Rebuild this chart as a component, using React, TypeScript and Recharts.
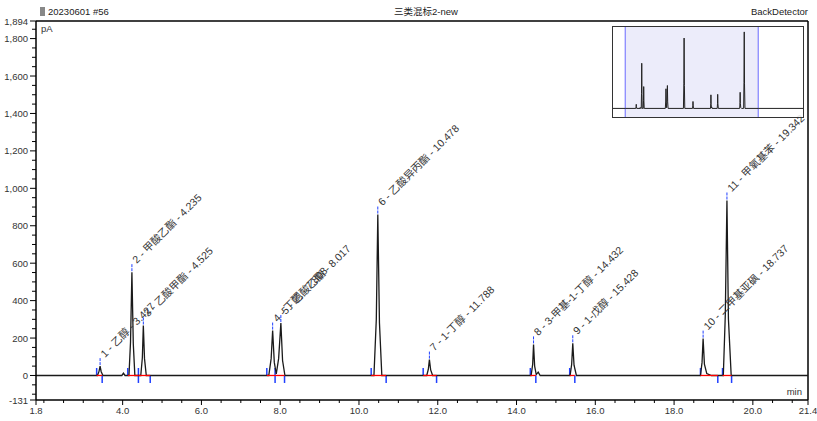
import React from 'react'
import {
  ComposedChart, Line, Scatter, XAxis, YAxis, ReferenceLine, ReferenceArea
} from 'recharts'

// chromatogram trace: [min, pA]
const trace: [number, number][] = [
  [0, 0], [1.8, 0],
  [3.36, 0], [3.40, 22], [3.427, 50], [3.455, 20], [3.50, 0],
  [3.98, 0], [4.02, 12], [4.06, 0],
  [4.16, 0], [4.20, 180], [4.235, 552], [4.27, 170], [4.31, 0],
  [4.46, 0], [4.50, 95], [4.525, 267], [4.555, 90], [4.60, 0],
  [7.71, 0], [7.77, 90], [7.808, 240], [7.85, 70], [7.90, 8],
  [7.96, 90], [8.017, 280], [8.06, 80], [8.12, 0],
  [10.38, 0], [10.44, 300], [10.478, 860], [10.52, 280], [10.58, 0],
  [11.72, 0], [11.76, 32], [11.788, 85], [11.82, 30], [11.87, 0],
  [14.37, 0], [14.41, 60], [14.432, 166], [14.46, 50], [14.50, 5], [14.55, 18], [14.60, 0],
  [15.36, 0], [15.40, 60], [15.428, 172], [15.46, 55], [15.52, 0],
  [18.67, 0], [18.71, 70], [18.737, 197], [18.77, 60], [18.83, 10], [18.95, 0],
  [19.25, 0], [19.30, 320], [19.342, 935], [19.38, 300], [19.45, 0],
  [21.4, 0], [28, 0],
]

const peakTimes = [3.427, 4.235, 4.525, 7.808, 8.017, 10.478, 11.788, 14.432, 15.428, 18.737, 19.342]
const peakHeights = [50, 552, 267, 240, 280, 860, 85, 166, 172, 197, 935]
const peakNames = [
  '乙醇', '甲酸乙酯', '乙酸甲酯', '丁酮', '乙酸乙酯', '乙酸异丙酯',
  '1-丁醇', '3-甲基-1-丁醇', '1-戊醇', '二甲基亚砜', '甲氧基苯',
]
const intStart = [3.34, 4.13, 4.40, 7.66, 7.87, 10.31, 11.63, 14.35, 15.35, 18.67, 19.23]
const intEnd = [3.48, 4.40, 4.70, 7.87, 8.11, 10.69, 11.97, 14.49, 15.48, 19.11, 19.46]

const xMajor = [1.8, 4, 6, 8, 10, 12, 14, 16, 18, 20, 21.4]
const yMajor = [-131, 0, 200, 400, 600, 800, 1000, 1200, 1400, 1600, 1800, 1894]

const data = trace.map(([t, v]) => ({ t, v }))
const peaks = peakTimes.map((t, i) => ({
  t, v: peakHeights[i], label: `${i + 1} - ${peakNames[i]} - ${t.toFixed(3)}`,
}))
// integration baselines, drawn as small two-point series
const baselines = intStart.map((s, i) => [{ t: s, v: 0 }, { t: intEnd[i], v: 0 }])

const xTicks: number[] = [1.8]
for (let k = 4; k <= 42; k++) xTicks.push(k / 2)
xTicks.push(21.4)
const yTicks: number[] = [-131, -100, -50]
for (let v = 0; v <= 1850; v += 50) yTicks.push(v)
yTicks.push(1894)

const FONT = '"Liberation Sans", Arial, sans-serif'
const LABEL_FONT = '"Liberation Sans", "Noto Sans CJK SC", sans-serif'

const XTick = ({ x, y, payload }: any) => {
  const v = payload.value
  const major = xMajor.some((m) => Math.abs(m - v) < 1e-6)
  return (
    <g>
      <line x1={x} x2={x} y1={y} y2={y + (major ? 5 : 3)} stroke="#000" />
      {major && (
        <text x={x} y={y + 14} textAnchor="middle" fontSize={9.5} fill="#333" fontFamily={FONT}>
          {v.toFixed(1)}
        </text>
      )}
    </g>
  )
}

const YTick = ({ x, y, payload }: any) => {
  const v = payload.value
  const major = yMajor.includes(v)
  return (
    <g>
      <line x1={x - (major ? 6 : 4)} x2={x} y1={y} y2={y} stroke="#000" />
      {major && (
        <text x={x - 8} y={y + 3.5} textAnchor="end" fontSize={9.5} fill="#333" fontFamily={FONT}>
          {v.toLocaleString('en-US')}
        </text>
      )}
    </g>
  )
}

const PeakLabel = ({ cx, cy, payload }: any) => {
  const tx = cx + 2
  const ty = cy - 11
  return (
    <g>
      <line x1={cx} x2={cx} y1={cy - 1} y2={cy - 9} stroke="#1f3fff" strokeDasharray="3 1" />
      <text
        x={tx} y={ty}
        transform={`rotate(-45, ${tx}, ${ty})`}
        fontSize={10.5} fill="#333" fontFamily={LABEL_FONT} dominantBaseline="central"
      >
        {payload.label}
      </text>
    </g>
  )
}

function Inset() {
  return (
    <div style={{
      position: 'absolute', left: 612, top: 26, width: 192, height: 92,
      border: '1px solid #333', background: 'rgba(255,255,255,0.85)', boxSizing: 'border-box',
    }}>
      <ComposedChart width={190} height={90} data={data} margin={{ top: 0, right: 0, bottom: 0, left: 0 }}>
        <XAxis dataKey="t" type="number" domain={[0, 28]} hide allowDataOverflow />
        <YAxis type="number" domain={[-105, 995]} hide allowDataOverflow />
        <ReferenceArea x1={1.8} x2={21.4} fill="#ececfa" fillOpacity={1} stroke="none" />
        <ReferenceLine x={1.8} stroke="#6a6aff" />
        <ReferenceLine x={21.4} stroke="#6a6aff" />
        <Line dataKey="v" type="linear" stroke="#222" strokeWidth={1} dot={false} isAnimationActive={false} />
      </ComposedChart>
    </div>
  )
}

export default function App() {
  return (
    <div style={{ position: 'absolute', left: 0, top: 0, width: 817, height: 421, background: '#fff' }}>
      <svg width={817} height={20} style={{ position: 'absolute', left: 0, top: 0 }}>
        <rect x={40} y={7} width={5} height={9} fill="#888" />
        <text x={48} y={15} fontSize={9.5} fill="#222" fontFamily={FONT}>20230601 #56</text>
        <text x={426} y={15} fontSize={9.5} fill="#222" textAnchor="middle" fontFamily={LABEL_FONT}>三类混标2-new</text>
        <text x={808} y={15} fontSize={9.5} fill="#222" textAnchor="end" fontFamily={FONT}>BackDetector</text>
      </svg>
      <div style={{ position: 'absolute', left: 0, top: 0 }}>
        <ComposedChart width={817} height={421} data={data} margin={{ top: 21, right: 9, bottom: 0, left: 0 }}>
          <XAxis
            dataKey="t" type="number" domain={[1.8, 21.4]} allowDataOverflow
            ticks={xTicks} interval={0} tick={<XTick />} tickLine={false}
            tickSize={0} tickMargin={0} height={21} axisLine={{ stroke: '#000', strokeWidth: 1.5 }}
          />
          <YAxis
            type="number" domain={[-131, 1894]} allowDataOverflow
            ticks={yTicks} interval={0} tick={<YTick />} tickLine={false}
            tickSize={0} tickMargin={0} width={36} axisLine={{ stroke: '#000', strokeWidth: 1.5 }}
          />
          <ReferenceLine y={1894} stroke="#000" strokeWidth={1.5} />
          <ReferenceLine x={21.4} stroke="#000" strokeWidth={1.5} />
          {intStart.map((s, i) => (
            <ReferenceLine key={`s${i}`} segment={[{ x: s, y: 0 }, { x: s, y: 40 }]} stroke="#1f3fff" strokeWidth={1.5} />
          ))}
          {intEnd.map((e, i) => (
            <ReferenceLine key={`e${i}`} segment={[{ x: e, y: 0 }, { x: e, y: -40 }]} stroke="#1f3fff" strokeWidth={1.5} />
          ))}
          <Line dataKey="v" type="linear" stroke="#1a1a1a" strokeWidth={1.3} dot={false} isAnimationActive={false} />
          {baselines.map((b, i) => (
            <Line key={`b${i}`} data={b} dataKey="v" type="linear" stroke="#ff0000" strokeWidth={1.3}
              dot={false} activeDot={false} isAnimationActive={false} />
          ))}
          <Scatter data={peaks} dataKey="v" shape={<PeakLabel />} isAnimationActive={false} />
        </ComposedChart>
      </div>
      <svg width={817} height={421} style={{ position: 'absolute', left: 0, top: 0, pointerEvents: 'none' }}>
        <text x={41} y={32} fontSize={9.5} fill="#333" fontFamily={FONT}>pA</text>
        <text x={802} y={395} fontSize={9.5} fill="#333" textAnchor="end" fontFamily={FONT}>min</text>
      </svg>
      <Inset />
    </div>
  )
}
